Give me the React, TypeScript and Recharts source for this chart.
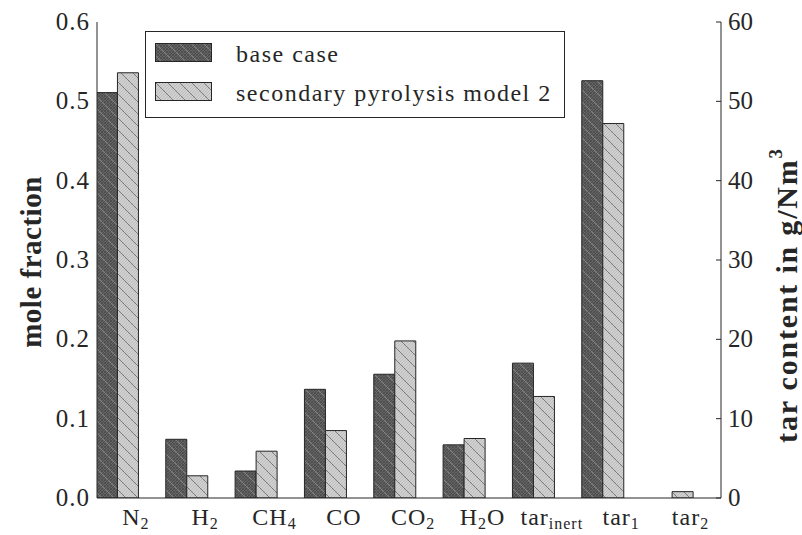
import React from 'react';
import { BarChart, Bar, XAxis, YAxis, Legend } from 'recharts';

// categories, "_{...}" marks a subscript
const categoryLabels = ['N_{2}', 'H_{2}', 'CH_{4}', 'CO', 'CO_{2}', 'H_{2}O', 'tar_{inert}', 'tar_{1}', 'tar_{2}'];

// mole fraction of the gas species (left axis)
const gasBaseCase = [0.511, 0.074, 0.034, 0.137, 0.156, 0.067];
const gasSecondary = [0.536, 0.028, 0.059, 0.085, 0.198, 0.075];

// tar content in g/Nm3 (right axis)
const tarBaseCase = [17.0, 52.6, 0];
const tarSecondary = [12.8, 47.2, 0.8];

const leftTicks = [0, 0.1, 0.2, 0.3, 0.4, 0.5, 0.6];
const rightTicks = [0, 10, 20, 30, 40, 50, 60];
const seriesNames = ['base case', 'secondary pyrolysis model 2'];

const SERIF = "'Liberation Serif', 'Times New Roman', serif";
const INK = '#262626';
const TICK_SHIFT = 0.27; // labels sit a bit right of the bar pairs
const X_DOMAIN = [0.71, 9.71];

const gasCount = gasBaseCase.length;
const data = categoryLabels.map((_, i) => ({
  pos: i + 1,
  gasBase: i < gasCount ? gasBaseCase[i] : 0,
  gasSec: i < gasCount ? gasSecondary[i] : 0,
  tarBase: i >= gasCount ? tarBaseCase[i - gasCount] : 0,
  tarSec: i >= gasCount ? tarSecondary[i - gasCount] : 0,
}));
const xTicks = categoryLabels.map((_, i) => i + 1 + TICK_SHIFT);

const splitLabel = (s: string) => s.split(/_\{|\}/);

const XTick = (props: any) => {
  const { x, y, payload } = props;
  const idx = Math.round(payload.value - TICK_SHIFT) - 1;
  const parts = splitLabel(categoryLabels[idx] || '');
  return (
    <text x={x} y={y + 27} textAnchor="middle" fontFamily={SERIF} fontSize={24} letterSpacing={1} fill={INK}>
      {parts.map((p, k) =>
        p === '' ? null : (
          <tspan key={k} dy={k % 2 ? 4 : k > 0 ? -4 : 0} fontSize={k % 2 ? 16 : 24}>
            {p}
          </tspan>
        )
      )}
    </text>
  );
};

const TopTick = (props: any) => {
  const { x, y } = props;
  return <line x1={x} x2={x} y1={y} y2={y + 5} stroke={INK} strokeWidth={1} />;
};

const LeftTick = (props: any) => {
  const { x, y, payload } = props;
  return (
    <text x={x} y={y} dy={8} textAnchor="end" fontFamily={SERIF} fontSize={25} letterSpacing={1} fill={INK}>
      {Number(payload.value).toFixed(1)}
    </text>
  );
};

const RightTick = (props: any) => {
  const { x, y, payload } = props;
  return (
    <g>
      <line x1={x - 12} x2={x - 7} y1={y} y2={y} stroke={INK} strokeWidth={1} />
      <text x={x} y={y} dy={8} textAnchor="start" fontFamily={SERIF} fontSize={25} fill={INK}>
        {payload.value}
      </text>
    </g>
  );
};

const LeftTitle = (props: any) => {
  const vb = props.viewBox;
  const cx = vb.x - 6;
  const cy = vb.y + vb.height / 2 + 2;
  return (
    <text x={cx} y={cy} transform={`rotate(-90, ${cx}, ${cy})`} textAnchor="middle" dominantBaseline="central"
      fontFamily={SERIF} fontSize={29} fontWeight="bold" letterSpacing={0.5} fill={INK}>
      mole fraction
    </text>
  );
};

const RightTitle = (props: any) => {
  const vb = props.viewBox;
  const cx = vb.x + vb.width + 5;
  const cy = vb.y + vb.height / 2 + 35;
  return (
    <text x={cx} y={cy} transform={`rotate(-90, ${cx}, ${cy})`} textAnchor="middle" dominantBaseline="central"
      fontFamily={SERIF} fontSize={30} fontWeight="bold" letterSpacing={1.8} fill={INK}>
      tar content in g/Nm
      <tspan dy={-11} fontSize={19}>3</tspan>
    </text>
  );
};

const LegendBox = () => (
  <div style={{ position: 'relative', width: 420, height: 87, border: `1px solid ${INK}`, background: '#fff', boxSizing: 'border-box' }}>
    {seriesNames.map((name, i) => (
      <React.Fragment key={name}>
        <svg width={57} height={19} style={{ position: 'absolute', left: 9, top: 11 + i * 39 }}>
          <rect x={0.5} y={0.5} width={56} height={18} fill={i === 0 ? 'url(#hatchDark)' : 'url(#hatchLight)'} stroke={INK} />
        </svg>
        <div style={{ position: 'absolute', left: 90, top: 9.5 + i * 39, fontFamily: SERIF, fontSize: 24, lineHeight: '24px',
          letterSpacing: 1.5, color: INK, whiteSpace: 'nowrap' }}>
          {name}
        </div>
      </React.Fragment>
    ))}
  </div>
);

const fineSlash = 'M0,3 L3,0 M0,6 L6,0 M0,9 L9,0 M0,12 L12,0 M3,12 L12,3 M6,12 L12,6 M9,12 L12,9';
const fineBack = 'M0,9 L3,12 M0,6 L6,12 M0,3 L9,12 M3,0 L12,9 M6,0 L12,6 M9,0 L12,3';

const App = () => {
  return (
    <div style={{ position: 'absolute', left: 0, top: 0, width: 802, height: 535, background: '#fff' }}>
      <BarChart width={802} height={535} data={data} barGap={0} margin={{ top: 22, right: 21, bottom: 7, left: 37 }}>
        <defs>
          <pattern id="hatchDark" width="12" height="12" patternUnits="userSpaceOnUse">
            <rect width="12" height="12" fill="#646464" />
            <path d={fineSlash} stroke="#444444" strokeWidth="0.7" />
            <path d={fineBack} stroke="#4a4a4a" strokeWidth="0.7" />
            <path d="M0,0 L12,12" stroke="#858585" strokeWidth="0.9" />
          </pattern>
          <pattern id="hatchLight" width="12" height="12" patternUnits="userSpaceOnUse">
            <rect width="12" height="12" fill="#d0d0d0" />
            <path d={fineSlash} stroke="#b4b4b4" strokeWidth="0.7" />
            <path d="M0,0 L12,12" stroke="#7c7c7c" strokeWidth="1" />
          </pattern>
        </defs>
        <XAxis xAxisId="main" dataKey="pos" type="number" domain={X_DOMAIN} ticks={xTicks} interval={0}
          height={30} tickSize={0} tickMargin={0} tickLine={false} tick={<XTick />}
          axisLine={{ stroke: INK, strokeWidth: 1 }} allowDataOverflow />
        <XAxis xAxisId="top" dataKey="pos" type="number" orientation="top" domain={X_DOMAIN} ticks={xTicks} interval={0}
          height={0} tickSize={0} tickMargin={0} tickLine={false} tick={<TopTick />}
          axisLine={{ stroke: INK, strokeWidth: 1 }} allowDataOverflow />
        <YAxis yAxisId="left" orientation="left" width={60} domain={[0, 0.6]} ticks={leftTicks} interval={0}
          tickSize={0} tickMargin={7} tickLine={false} tick={<LeftTick />}
          axisLine={{ stroke: INK, strokeWidth: 1 }} label={{ content: <LeftTitle /> }} allowDataOverflow />
        <YAxis yAxisId="right" orientation="right" width={60} domain={[0, 60]} ticks={rightTicks} interval={0}
          tickSize={0} tickMargin={7} tickLine={false} tick={<RightTick />}
          axisLine={{ stroke: INK, strokeWidth: 1 }} label={{ content: <RightTitle /> }} allowDataOverflow />
        <Legend layout="horizontal" verticalAlign="middle" align="center" content={<LegendBox />}
          wrapperStyle={{ left: 145, top: 31, width: 420, height: 87 }} />
        <Bar xAxisId="main" yAxisId="left" dataKey="gasBase" stackId="base" barSize={21} fill="url(#hatchDark)"
          stroke={INK} strokeWidth={1} isAnimationActive={false} />
        <Bar xAxisId="main" yAxisId="left" dataKey="gasSec" stackId="sec" barSize={21} fill="url(#hatchLight)"
          stroke={INK} strokeWidth={1} isAnimationActive={false} />
        <Bar xAxisId="main" yAxisId="right" dataKey="tarBase" stackId="base" barSize={21} fill="url(#hatchDark)"
          stroke={INK} strokeWidth={1} isAnimationActive={false} />
        <Bar xAxisId="main" yAxisId="right" dataKey="tarSec" stackId="sec" barSize={21} fill="url(#hatchLight)"
          stroke={INK} strokeWidth={1} isAnimationActive={false} />
      </BarChart>
    </div>
  );
};

export default App;
